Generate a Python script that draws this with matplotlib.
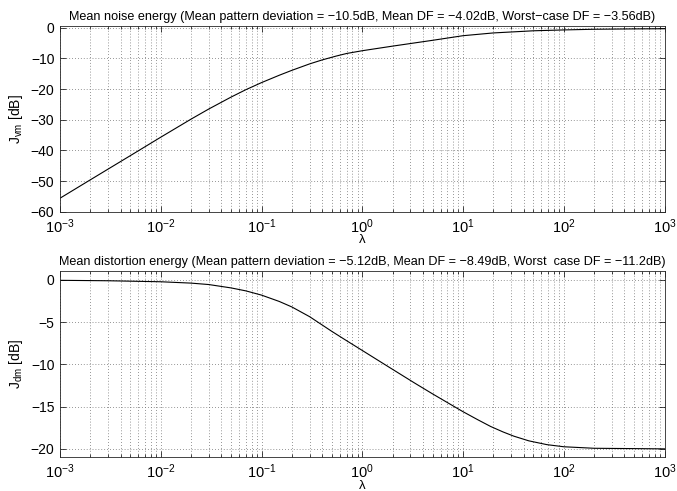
import numpy as np
import matplotlib
matplotlib.use("Agg")
import matplotlib.pyplot as plt
from matplotlib.ticker import LogLocator, NullFormatter, FixedLocator

plt.rcParams["font.family"] = ["Liberation Sans", "DejaVu Sans"]
plt.rcParams["mathtext.fontset"] = "custom"
plt.rcParams["mathtext.rm"] = "Liberation Sans"
plt.rcParams["mathtext.it"] = "Liberation Sans:italic"

# regularisation parameter lambda and the two energy curves (dB)
lam_noise = [1e-3, 2e-3, 5e-3, 1e-2, 2e-2, 3e-2, 5e-2, 7e-2, 0.1, 0.15,
             0.2, 0.3, 0.4, 0.55, 0.7, 1.0, 2.0, 5.0, 10.0, 20.0, 50.0,
             100.0, 200.0, 500.0, 1000.0]
j_noise = [-55.6, -49.6, -41.7, -35.7, -29.8, -26.5, -22.6, -20.2, -17.9,
           -15.5, -13.9, -11.8, -10.5, -9.25, -8.4, -7.5, -6.0, -4.1, -2.6,
           -1.7, -1.0, -0.72, -0.5, -0.38, -0.33]

lam_dist = [1e-3, 3e-3, 1e-2, 2e-2, 3e-2, 5e-2, 7e-2, 0.1, 0.15, 0.2, 0.3,
            0.5, 0.7, 1.0, 1.8, 3.3, 5.0, 8.2, 10.0, 14.0, 18.8, 25.0, 32.0,
            45.0, 68.0, 100.0, 200.0, 1000.0]
j_dist = [-0.05, -0.1, -0.22, -0.38, -0.55, -0.95, -1.3, -1.8, -2.55,
          -3.2, -4.35, -6.1, -7.2, -8.35, -10.25, -12.2, -13.5, -15.0,
          -15.6, -16.55, -17.35, -18.0, -18.5, -19.05, -19.5, -19.75,
          -19.93, -20.0]

xticks = [1e-3, 1e-2, 1e-1, 1e0, 1e1, 1e2, 1e3]
xticklabels = [r"$10^{-3}$", r"$10^{-2}$", r"$10^{-1}$", r"$10^{0}$",
               r"$10^{1}$", r"$10^{2}$", r"$10^{3}$"]

titles = [
    "Mean noise energy (Mean pattern deviation = \u221210.5dB, Mean DF = "
    "\u22124.02dB, Worst\u2212case DF = \u22123.56dB)",
    "Mean distortion energy (Mean pattern deviation = \u22125.12dB, Mean DF = "
    "\u22128.49dB, Worst  case DF = \u221211.2dB)",
]
ylabels = [r"J$_{\mathrm{vm}}$ [dB]", r"J$_{\mathrm{dm}}$ [dB]"]
yticks = [[-60, -50, -40, -30, -20, -10, 0], [-20, -15, -10, -5, 0]]
ylims = [(-60, 0.65), (-21, 1.05)]

fig = plt.figure(figsize=(6.77, 4.91), dpi=100)
axes = [fig.add_axes([0.0886, 0.5688, 0.893, 0.3788]),
        fig.add_axes([0.0886, 0.0686, 0.893, 0.3794])]

grid_style = dict(ls=(0, (1, 2.5)), lw=0.6, color="0.45")

series = [(lam_noise, j_noise), (lam_dist, j_dist)]
for ax, (x, y), title, ylab, yt, yl in zip(axes, series, titles, ylabels,
                                           yticks, ylims):
    ax.semilogx(x, y, color="black", lw=0.8)
    ax.set_xlim(1e-3, 1e3)
    ax.set_ylim(*yl)
    ax.yaxis.set_major_locator(FixedLocator(yt))
    ax.set_yticklabels([str(v).replace("-", "\u2212") for v in yt])
    ax.xaxis.set_major_locator(FixedLocator(xticks))
    ax.set_xticklabels(xticklabels)
    ax.xaxis.set_minor_locator(LogLocator(base=10, subs=np.arange(2, 10),
                                          numticks=20))
    ax.xaxis.set_minor_formatter(NullFormatter())

    ax.grid(True, which="major", **grid_style)
    ax.grid(True, which="minor", axis="x", **grid_style)
    ax.tick_params(which="both", direction="in", top=True, right=True,
                   labelsize=10, width=0.5, colors="black", pad=4)
    ax.tick_params(axis="x", labelsize=10.5)
    ax.tick_params(which="major", length=4)
    ax.tick_params(which="minor", length=2)
    for s in ax.spines.values():
        s.set_linewidth(0.6)
        s.set_color("0.15")

    ax.set_title(title, fontsize=9.1, pad=4)
    ax.set_xlabel("\u03bb", fontsize=9.5, labelpad=-1)
    ax.set_ylabel(ylab, fontsize=10, labelpad=4)

fig.savefig("out.png", dpi=100)
